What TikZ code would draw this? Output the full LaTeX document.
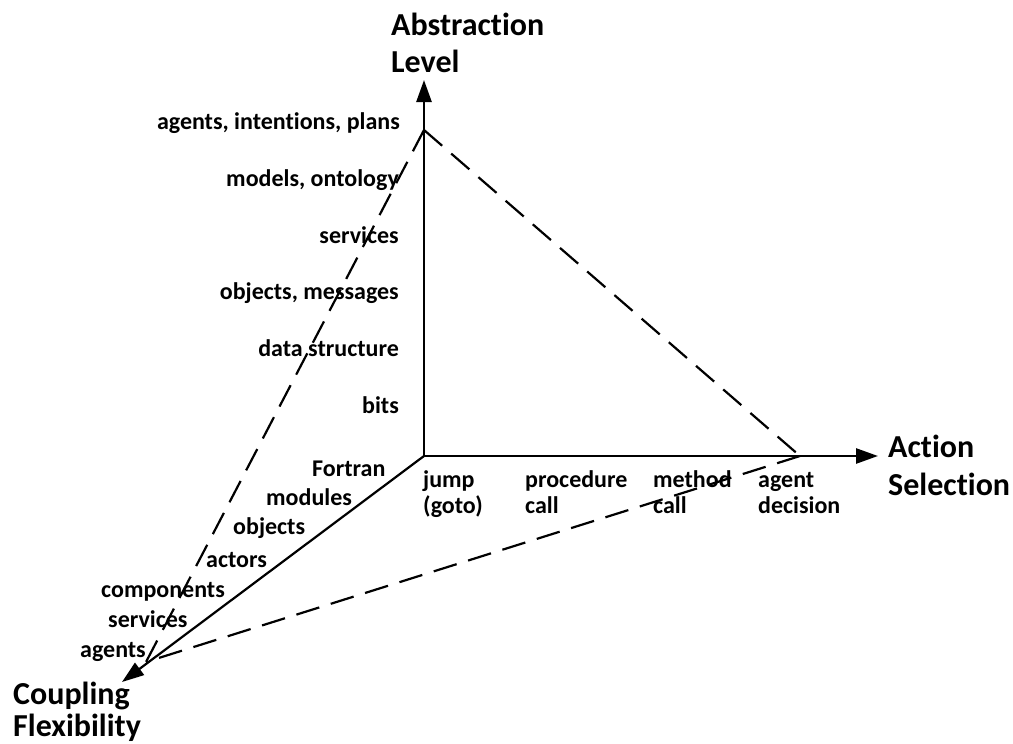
\documentclass[tikz,border=0pt]{standalone}
\usepackage{fontspec}
\setmainfont{Carlito}[Ligatures=NoCommon]
\usetikzlibrary{arrows.meta}
\begin{document}
\begin{tikzpicture}[x=1pt,y=-1pt,
  axis/.style={line width=2.6pt,-{Triangle[length=22pt,width=15pt]}},
  guide/.style={line width=2.2pt,dash pattern=on 24pt off 12pt},
  lbl/.style={font=\fontsize{24}{29}\selectfont\bfseries,inner sep=0pt},
  lvl/.style={lbl,anchor=base east},
  cpl/.style={lbl,anchor=base west},
  act/.style={lbl,anchor=base west},
  axtitle/.style={font=\fontsize{32}{38}\selectfont\bfseries,inner sep=0pt,anchor=base west}]
\useasboundingbox (0,0) rectangle (1013,744);

% axis end points
\coordinate (O) at (424,456);
\coordinate (up) at (424,80);
\coordinate (right) at (878,456);
\coordinate (diag) at (122,682);

% corners of the dashed triangle
\coordinate (A) at (424,130);
\coordinate (B) at (800,456);
\coordinate (C) at (146,662);

% axis titles
\node[axtitle] (t1a) at (391,35) {Abstraction};
\node[axtitle] (t1b) at (391,72) {Level};
\node[axtitle] (t2a) at (888,457) {Action};
\node[axtitle] (t2b) at (888,495) {Selection};
\node[axtitle] (t3a) at (13,704) {Coupling};
\node[axtitle] (t3b) at (13,736) {Flexibility};

% abstraction levels
\node[lvl] (l1) at (400,129) {agents, intentions, plans};
\node[lvl] (l2) at (399,186) {models, ontology};
\node[lvl] (l3) at (399,243) {services};
\node[lvl] (l4) at (399,299) {objects, messages};
\node[lvl] (l5) at (399,356) {data structure};
\node[lvl] (l6) at (399,413) {bits};

% coupling flexibility levels
\node[cpl] (c1) at (312,476) {Fortran};
\node[cpl] (c2) at (266,505) {modules};
\node[cpl] (c3) at (233,534) {objects};
\node[cpl] (c4) at (206,567) {actors};
\node[cpl] (c5) at (101,597) {components};
\node[cpl] (c6) at (108,627) {services};
\node[cpl] (c7) at (80,657) {agents};

% action selection levels
\node[act] (a1) at (423,487) {jump};
\node[act] (a1b) at (423,513) {(goto)};
\node[act] (a2) at (525,487) {procedure};
\node[act] (a2b) at (525,513) {call};
\node[act] (a3) at (653,487) {method};
\node[act] (a3b) at (653,513) {call};
\node[act] (a4) at (758,487) {agent};
\node[act] (a4b) at (758,513) {decision};

% axes
\draw[axis] (O) -- (up);
\draw[axis] (O) -- (right);
\draw[axis,line width=2.2pt] (O) -- (diag);

% dashed triangle
\draw[guide] (A) -- (B);
\draw[guide] (A) -- (C);
\draw[guide] (B) -- (C);
\end{tikzpicture}
\end{document}
